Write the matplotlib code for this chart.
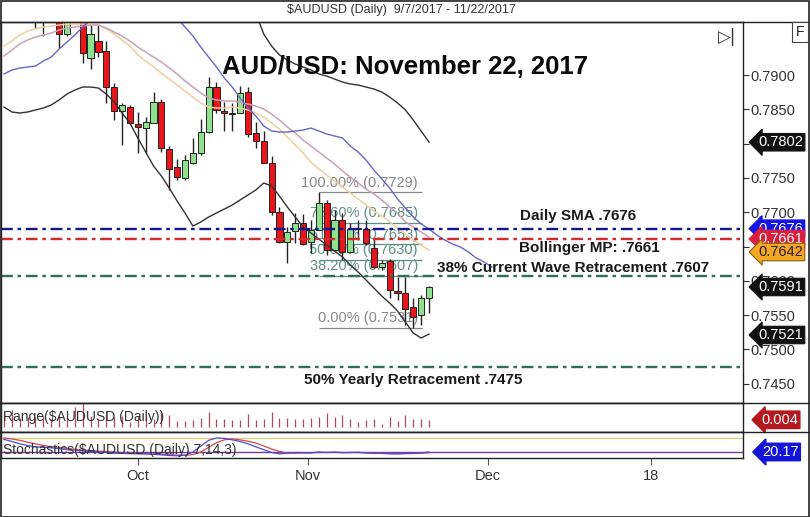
import matplotlib.pyplot as plt
import numpy as np
from matplotlib.lines import Line2D
from matplotlib.patches import Rectangle
from matplotlib.transforms import blended_transform_factory

plt.rcParams['font.family'] = ['Liberation Sans', 'DejaVu Sans']

W, H = 810, 517

# daily candles 9/7/2017 - 11/22/2017 (early ones sit above the frame)
opens = [.8010, .8040, .8050, .8035, .8010, .7985, .8010, .7995, .7960, .7995,
         .8040, .7925, .7950, .7935, .7883, .7848, .7853, .7829, .7823, .7830,
         .7861, .7792, .7766, .7750, .7772, .7786, .7817, .7883, .7848, .7843,
         .7845, .7875, .7815, .7804, .7772, .7700, .7657, .7673, .7685, .7657,
         .7674, .7713, .7645, .7689, .7642, .7676, .7676, .7648, .7620, .7629,
         .7585, .7582, .7562, .7550, .7575]
highs = [.8060, .8125, .8070, .8045, .8025, .8020, .8030, .8010, .8010, .8090,
         .8050, .7973, .7973, .7950, .7888, .7859, .7856, .7846, .7839, .7875,
         .7865, .7797, .7778, .7783, .7808, .7836, .7897, .7890, .7861, .7859,
         .7884, .7883, .7831, .7818, .7782, .7708, .7678, .7699, .7697, .7689,
         .7729, .7718, .7703, .7699, .7684, .7689, .7689, .7662, .7630, .7632,
         .7606, .7606, .7575, .7580, .7593]
lows = [.7995, .8030, .8020, .7990, .7969, .7957, .7985, .7939, .7957, .7980,
        .7917, .7909, .7926, .7859, .7834, .7798, .7829, .7786, .7786, .7830,
        .7788, .7732, .7747, .7747, .7770, .7784, .7815, .7845, .7818, .7818,
        .7845, .7810, .7794, .7772, .7696, .7655, .7626, .7655, .7652, .7641,
        .7674, .7638, .7645, .7630, .7641, .7660, .7652, .7619, .7616, .7575,
        .7572, .7536, .7531, .7535, .7553]
closes = [.8040, .8050, .8035, .8010, .7990, .8010, .7995, .7960, .7995, .8040,
          .7932, .7960, .7934, .7883, .7848, .7856, .7830, .7824, .7831, .7861,
          .7794, .7763, .7751, .7776, .7786, .7817, .7883, .7849, .7845, .7844,
          .7874, .7814, .7804, .7772, .7700, .7657, .7671, .7685, .7654, .7674,
          .7713, .7645, .7689, .7642, .7676, .7677, .7655, .7620, .7626, .7587,
          .7582, .7559, .7547, .7575, .7591]

# indicator lines, one value per bar
sma_orange = [.79423, .79496, .79583, .79641, .79671, .79700, .79714, .79729, .79743, .79743,
              .79743, .79743, .79729, .79671, .79598, .79510, .79423, .79292, .79204, .79117,
              .79029, .78942, .78854, .78767, .78679, .78592, .78534, .78519, .78519, .78534,
              .78519, .78490, .78446, .78388, .78300, .78213, .78096, .77980, .77863, .77732,
              .77630, .77542, .77455, .77367, .77280, .77192, .77105, .77017, .76945, .76857,
              .76770, .76682, .76595, .76522, .76449]
bb_mid = [.79277, .79364, .79452, .79510, .79554, .79583, .79612, .79656, .79685, .79700,
          .79714, .79729, .79729, .79685, .79627, .79569, .79496, .79408, .79335, .79262,
          .79190, .79102, .79015, .78913, .78825, .78738, .78665, .78636, .78621, .78621,
          .78606, .78577, .78548, .78504, .78431, .78344, .78242, .78155, .78052, .77965,
          .77878, .77790, .77703, .77601, .77513, .77426, .77338, .77265, .77178, .77076,
          .76988, .76857, .76784, .76711, .76638]
sma_blue = [.79015, .79073, .79102, .79117, .79131, .79204, .79262, .79379, .79481, .79583,
            .79700, .79802, .8000, .8020, .8035, .8045, .8050, .8050, .8045, .8035,
            .8020, .8000, .79831, .79700, .79569, .79408, .79262, .79117, .78955, .78825,
            .78665, .78519, .78402, .78257, .78184, .78169, .78169, .78184, .78198, .78227,
            .78184, .78140, .78111, .78082, .77965, .77878, .77761, .77615, .77484, .77353,
            .77192, .77061, .76930, .76828, .76755, .76668, .76595, .76536, .76493, .76420,
            .76332, .76274, .76201]
bb_upper = [np.nan] * 30 + [.8030, .8010, .7990, .79598, .79423, .79292, .79219, .79160, .79117, .79073,
                            .79015, .78985, .78942, .78898, .78869, .78854, .78825, .78796, .78752, .78679,
                            .78592, .78490, .78344, .78184, .78023]
bb_lower = [.78534, .78461, .78446, .78461, .78490, .78519, .78563, .78636, .78723, .78781,
            .78825, .78825, .78810, .78723, .78606, .78446, .78300, .78082, .77878, .77673,
            .77528, .77353, .77163, .76988, .76799, .76857, .76930, .76988, .77047, .77105,
            .77178, .77251, .77324, .77426, .77382, .77236, .77076, .76930, .76784, .76697,
            .76609, .76522, .76434, .76347, .76230, .76128, .76012, .75895, .75778, .75676,
            .75560, .75399, .75239, .75166, .75224]

stoch_k = [74, 65, 55, 48, 42, 40, 38, 34, 30, 28, 25, 22, 20, 18, 15, 14, 13, 12, 12, 10,
           8, 5, 4, 6, 20, 45, 70, 80, 78, 72, 65, 55, 42, 30, 18, 12, 15, 18, 17, 16,
           20, 18, 19, 17, 18, 19, 16, 14, 14, 12, 12, 14, 14, 16, 20.17]
stoch_d = [80, 76, 70, 62, 55, 48, 43, 40, 36, 32, 29, 26, 24, 22, 20, 18, 16, 14, 13, 12,
           11, 9, 7, 6, 9, 20, 40, 60, 72, 76, 72, 66, 58, 46, 33, 22, 16, 15, 16, 17,
           18, 18, 19, 18, 18, 18, 17, 16, 15, 14, 13, 13, 14, 15, 17]

fib_names = ['100.00%', '78.60%', '61.80%', '50.00%', '38.20%', '0.00%']
fib_prices = [0.7729, 0.7685, 0.7653, 0.7630, 0.7607, 0.7531]

levels = [0.7676, 0.7661, 0.7607, 0.7475]
level_colors = ['#15158f', '#d42a2a', '#2e6e5e', '#2e6e5e']

tags = [0.7802, 0.7676, 0.7661, 0.7642, 0.7591, 0.7521]
tag_colors = ['#111111', '#1414e6', '#d8203e', '#f5a623', '#111111', '#111111']
tag_text = ['white', 'white', 'white', '#222222', 'white', 'white']

price_ticks = [0.745, 0.750, 0.755, 0.760, 0.765, 0.770, 0.775, 0.780, 0.785, 0.790]
hidden_ticks = [0.765, 0.780]  # sit under the price tags

date_ticks = [17, 38.6, 61.5, 82.2]
date_labels = ['Oct', 'Nov', 'Dec', '18']


def box(x0, y0, x1, y1):
    return [x0 / W, 1 - y1 / H, (x1 - x0) / W, (y1 - y0) / H]


fig = plt.figure(figsize=(W / 100, H / 100), dpi=100)
ax = fig.add_axes(box(1, 22, 742.7, 402.5))
ax_r = fig.add_axes(box(1, 402.5, 742.7, 432))
ax_s = fig.add_axes(box(1, 432, 742.7, 458))

xl = (-0.38, 93.86)
for a in (ax, ax_r, ax_s):
    a.set_xlim(*xl)
    for s in a.spines.values():
        s.set_color('#222222')
        s.set_linewidth(1)
    a.set_xticks([])
    a.set_yticks([])

# ---- main price panel
ax.set_ylim(0.74226, 0.79773)
o, h, l, c = map(np.array, (opens, highs, lows, closes))
idx = np.arange(len(o))
up = c >= o
ax.vlines(idx, l, h, color='#222222', lw=1, zorder=3)
ax.bar(idx, np.maximum(np.abs(c - o), 0.00007), bottom=np.minimum(o, c), width=0.78,
       color=np.where(up, '#8fe08f', '#e8161b'), edgecolor='#222222', lw=0.7, zorder=4)

ax.plot(idx, sma_orange, color='#f0cf9c', lw=1.1, zorder=5)
ax.plot(idx, bb_mid, color='#caa0b8', lw=1.1, zorder=5)
ax.plot(np.arange(len(sma_blue)), sma_blue, color='#6666cc', lw=1, zorder=5)
ax.plot(idx, bb_upper, color='#333333', lw=1, zorder=5)
ax.plot(idx, bb_lower, color='#333333', lw=1, zorder=5)

# fibonacci retracement
for name, p in zip(fib_names, fib_prices):
    col = '#888888' if name in ('100.00%', '0.00%') else '#5f8f84'
    ax.hlines(p, 40, 53.1, color=col, lw=0.9, zorder=2)
    ax.annotate(f'{name} ({p:.4f})', (52.6, p), xytext=(0, 2), textcoords='offset points',
                ha='right', va='bottom', fontsize=10.5, color=col, zorder=2)

for p, col in zip(levels, level_colors):
    ax.axhline(p, color=col, lw=1.7, ls=(0, (5, 2, 1.5, 2)), zorder=6)

# right price axis
ax.yaxis.tick_right()
ax.set_yticks(price_ticks)
ax.set_yticklabels(['' if v in hidden_ticks else f'{v:.4f}' for v in price_ticks])
ax.tick_params(axis='y', direction='out', length=4, pad=1.5, labelsize=10.5,
               labelcolor='#333333', color='#333333')

tr = blended_transform_factory(ax.transAxes, ax.transData)
for p, fc, tc in zip(tags, tag_colors, tag_text):
    ax.text(1.021, p, f'{p:.4f}', transform=tr, ha='left', va='center', fontsize=10.5,
            color=tc, zorder=10, clip_on=False,
            bbox=dict(boxstyle='larrow,pad=0.12', fc=fc, ec='#8a5a10' if fc == '#f5a623' else fc, lw=0.8))

# annotations
fig.text(405 / W, 1 - 67 / H, 'AUD/USD: November 22, 2017', ha='center', va='center',
         fontsize=18.5, fontweight='bold', color='#0a0a0a')
notes = [('Daily SMA .7676', 578, 216), ('Bollinger MP: .7661', 589, 248),
         ('38% Current Wave Retracement .7607', 573, 268), ('50% Yearly Retracement .7475', 413, 380)]
for t, x, y in notes:
    fig.text(x / W, 1 - y / H, t, ha='center', va='center', fontsize=11,
             fontweight='bold', color='#1a1a1a', zorder=8)

# ---- range panel
rng = h - l
ax_r.set_ylim(-0.0029, 0.0138)
ax_r.vlines(idx, 0, rng, color='#b04a5a', lw=0.9)
ax_r.text(0.003, 0.5, 'Range($AUDUSD (Daily))', transform=ax_r.transAxes, ha='left',
          va='center', fontsize=10, color='#333333')
tr_r = blended_transform_factory(ax_r.transAxes, ax_r.transData)
ax_r.text(1.025, rng[-1], f'{rng[-1]:.3f}', transform=tr_r, ha='left', va='center', fontsize=10.5,
          color='white', clip_on=False, zorder=10,
          bbox=dict(boxstyle='larrow,pad=0.12', fc='#b3181e', ec='#b3181e'))

# ---- stochastics panel
ax_s.set_ylim(-5.6, 105.6)
ax_s.axhline(80, color='#d8d27a', lw=1)
ax_s.axhline(20, color='#7a3a9a', lw=1)
ax_s.plot(idx, stoch_d, color='#d04848', lw=0.9)
ax_s.plot(idx, stoch_k, color='#4b4be0', lw=0.9)
ax_s.text(0.003, 0.3, 'Stochastics($AUDUSD (Daily) 7,14,3)', transform=ax_s.transAxes,
          ha='left', va='center', fontsize=10, color='#333333')
tr_s = blended_transform_factory(ax_s.transAxes, ax_s.transData)
ax_s.text(1.026, stoch_k[-1], f'{stoch_k[-1]:.2f}', transform=tr_s, ha='left', va='center',
          fontsize=10.5, color='white', clip_on=False, zorder=10,
          bbox=dict(boxstyle='larrow,pad=0.12', fc='#1414d8', ec='#1414d8'))
ax_s.set_xticks(date_ticks)
ax_s.set_xticklabels(date_labels)
ax_s.tick_params(axis='x', direction='out', length=5, pad=3, labelsize=10.5,
                 labelcolor='#333333', color='#555555')

# frame, header
fig.text(401 / W, 1 - 10 / H, '$AUDUSD (Daily)  9/7/2017 - 11/22/2017', ha='center',
         va='center', fontsize=9, color='#333333')
for y in (22, 402.5, 432):
    fig.add_artist(Line2D([0, 1], [1 - y / H] * 2, color='#222222', lw=1))
fig.add_artist(Rectangle((0.5 / W, 0.5 / H), 1 - 1.5 / W, 1 - 1.5 / H, transform=fig.transFigure,
                         fill=False, ec='#222222', lw=1.2))
fig.text(800 / W, 1 - 32 / H, 'F', ha='center', va='center', fontsize=10, color='#222222',
         bbox=dict(boxstyle='square,pad=0.25', fc='white', ec='#444444', lw=0.8))
fig.text(727 / W, 1 - 37 / H, '\u25b7|', ha='center', va='center', fontsize=12,
         color='#333333', family='DejaVu Sans')

fig.savefig('out.png', dpi=100)
